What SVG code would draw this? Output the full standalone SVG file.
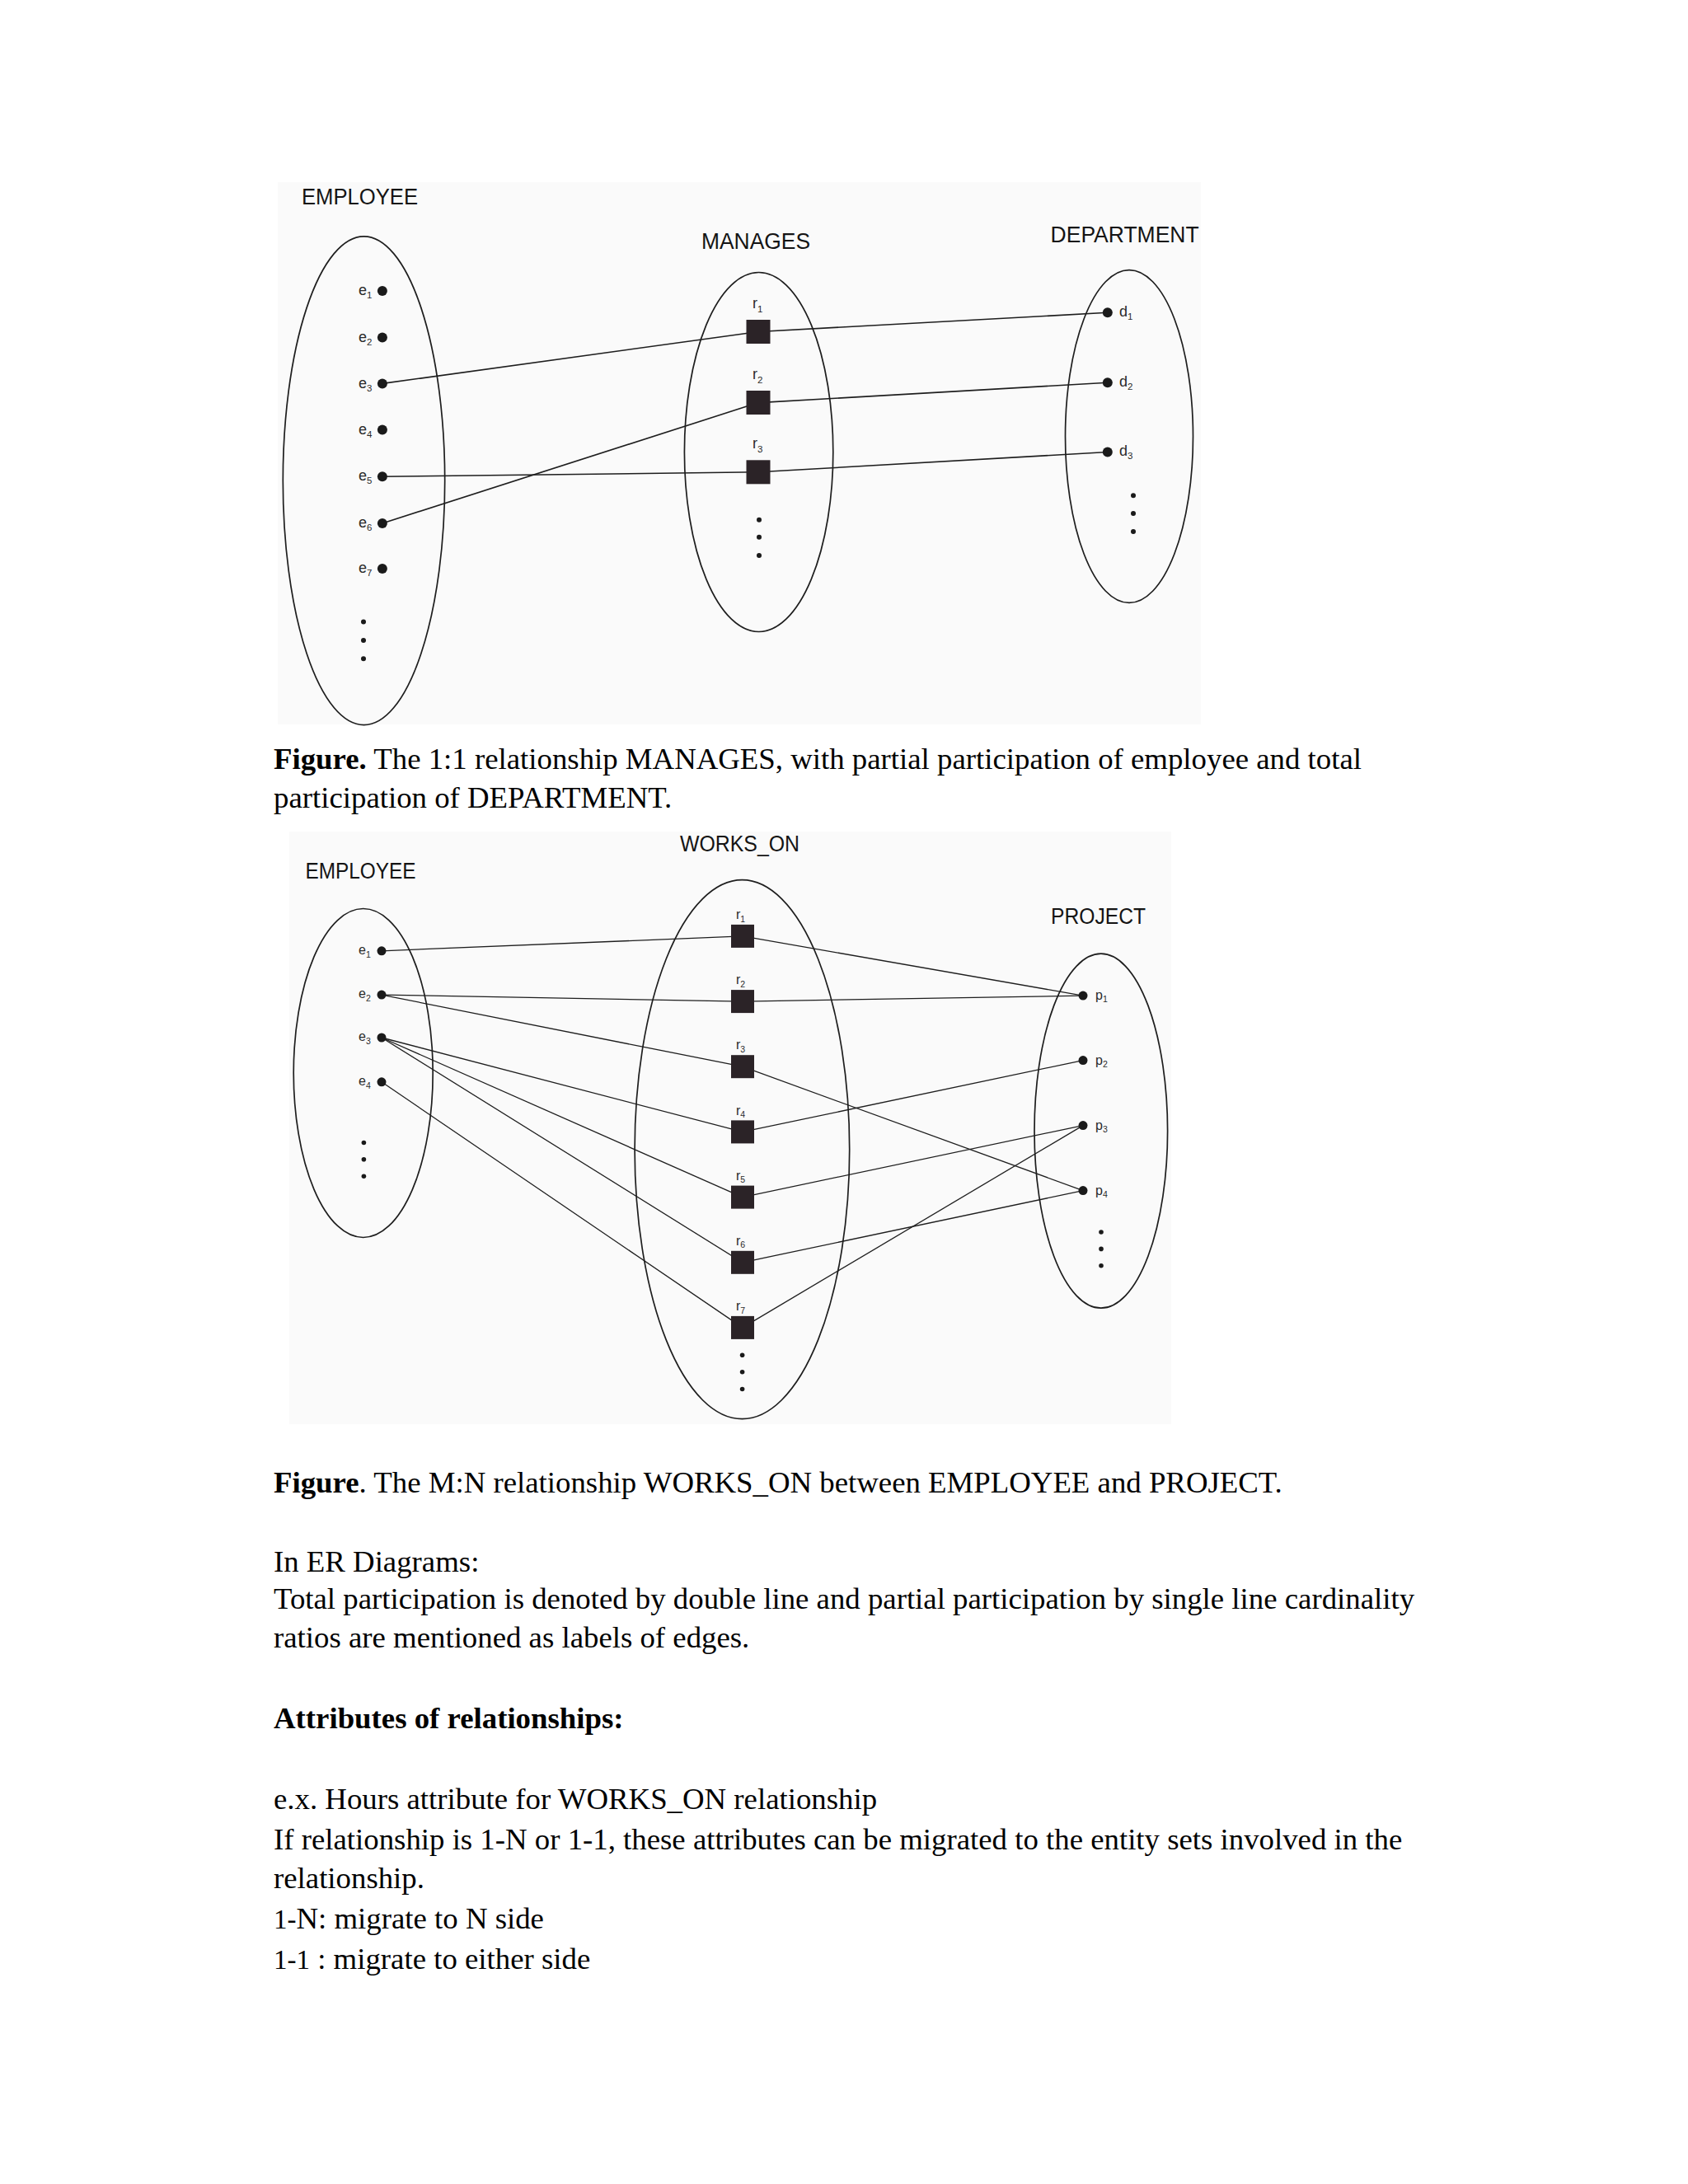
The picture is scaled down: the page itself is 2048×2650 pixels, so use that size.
<svg xmlns="http://www.w3.org/2000/svg" width="2048" height="2650" viewBox="0 0 2048 2650">
<style>
.bg{fill:#fafafa}
.set{fill:none;stroke:#1e1e1e;stroke-width:1.7}
.ln{stroke:#1e1e1e;stroke-width:1.6;fill:none}
.ln2{stroke:#1e1e1e;stroke-width:1.3;fill:none}
.dot{fill:#1a1a1a}
.sq{fill:#2b2327}
.hd{font-family:"Liberation Sans",Arial,sans-serif;font-size:27px;fill:#141414}
.lb{font-family:"Liberation Sans",Arial,sans-serif;font-size:18px;fill:#2a2a2a}
.sub{font-size:11.5px}
.lb2{font-family:"Liberation Sans",Arial,sans-serif;font-size:16px;fill:#2a2a2a}
.sub2{font-size:10.5px}
.tx{font-family:"Liberation Serif","Times New Roman",serif;font-size:36.8px;fill:#000}
.b{font-weight:bold}
</style>
<rect width="2048" height="2650" fill="#ffffff"/>

<!-- Figure 1 -->
<rect class="bg" x="337" y="221" width="1120" height="658"/>
<g id="connectors1">
<line class="ln" x1="463.9" y1="465.4" x2="920" y2="402.5"/>
<line class="ln" x1="463.9" y1="635" x2="920" y2="488.6"/>
<line class="ln" x1="463.9" y1="578.3" x2="920" y2="572.8"/>
<line class="ln" x1="920" y1="402.5" x2="1343.8" y2="379.3"/>
<line class="ln" x1="920" y1="488.6" x2="1343.8" y2="464.3"/>
<line class="ln" x1="920" y1="572.8" x2="1343.8" y2="548.5"/>
</g>
<g id="employee1">
<text class="hd" x="366" y="248" textLength="141" lengthAdjust="spacingAndGlyphs">EMPLOYEE</text>
<ellipse class="set" cx="441.5" cy="583.2" rx="98.2" ry="296.4"/>
<circle class="dot" cx="463.9" cy="352.9" r="6"/><text class="lb" x="435" y="358">e<tspan class="sub" dy="4">1</tspan></text>
<circle class="dot" cx="463.9" cy="409.6" r="6"/><text class="lb" x="435" y="414.7">e<tspan class="sub" dy="4">2</tspan></text>
<circle class="dot" cx="463.9" cy="465.4" r="6"/><text class="lb" x="435" y="470.5">e<tspan class="sub" dy="4">3</tspan></text>
<circle class="dot" cx="463.9" cy="521.6" r="6"/><text class="lb" x="435" y="526.7">e<tspan class="sub" dy="4">4</tspan></text>
<circle class="dot" cx="463.9" cy="578.3" r="6"/><text class="lb" x="435" y="583.4">e<tspan class="sub" dy="4">5</tspan></text>
<circle class="dot" cx="463.9" cy="635" r="6"/><text class="lb" x="435" y="640.1">e<tspan class="sub" dy="4">6</tspan></text>
<circle class="dot" cx="463.9" cy="689.9" r="6"/><text class="lb" x="435" y="695">e<tspan class="sub" dy="4">7</tspan></text>
<circle class="dot" cx="441" cy="754.6" r="3"/>
<circle class="dot" cx="441" cy="777" r="3"/>
<circle class="dot" cx="441" cy="799.3" r="3"/>
</g>
<g id="manages">
<text class="hd" x="851" y="301.7" textLength="132" lengthAdjust="spacingAndGlyphs">MANAGES</text>
<ellipse class="set" cx="920.6" cy="548.5" rx="90.2" ry="218"/>
<text class="lb" x="913" y="374">r<tspan class="sub" dy="5">1</tspan></text>
<rect class="sq" x="905.5" y="388" width="29" height="29"/>
<text class="lb" x="913" y="460">r<tspan class="sub" dy="5">2</tspan></text>
<rect class="sq" x="905.5" y="474" width="29" height="29"/>
<text class="lb" x="913" y="544">r<tspan class="sub" dy="5">3</tspan></text>
<rect class="sq" x="905.5" y="558.3" width="29" height="29"/>
<circle class="dot" cx="921" cy="630.7" r="3"/>
<circle class="dot" cx="921" cy="651.8" r="3"/>
<circle class="dot" cx="921" cy="674" r="3"/>
</g>
<g id="department">
<text class="hd" x="1274.6" y="294" textLength="180" lengthAdjust="spacingAndGlyphs">DEPARTMENT</text>
<ellipse class="set" cx="1370" cy="529.5" rx="77.5" ry="201.9"/>
<circle class="dot" cx="1343.8" cy="379.3" r="6"/><text class="lb" x="1358" y="384">d<tspan class="sub" dy="4">1</tspan></text>
<circle class="dot" cx="1343.8" cy="464.3" r="6"/><text class="lb" x="1358" y="469">d<tspan class="sub" dy="4">2</tspan></text>
<circle class="dot" cx="1343.8" cy="548.5" r="6"/><text class="lb" x="1358" y="553.2">d<tspan class="sub" dy="4">3</tspan></text>
<circle class="dot" cx="1375" cy="601.3" r="3"/>
<circle class="dot" cx="1375" cy="623" r="3"/>
<circle class="dot" cx="1375" cy="645" r="3"/>
</g>

<text class="tx" x="332" y="933"><tspan class="b">Figure.</tspan> The 1:1 relationship MANAGES, with partial participation of employee and total</text>
<text class="tx" x="332" y="980">participation of DEPARTMENT.</text>

<!-- Figure 2 -->
<rect class="bg" x="351" y="1009" width="1070" height="719"/>
<g id="connectors2">
<line class="ln2" x1="463" y1="1153.8" x2="900.9" y2="1135.9"/>
<line class="ln2" x1="463" y1="1207.1" x2="900.9" y2="1215.1"/>
<line class="ln2" x1="463" y1="1207.1" x2="900.9" y2="1294.2"/>
<line class="ln2" x1="463" y1="1259" x2="900.9" y2="1373.4"/>
<line class="ln2" x1="463" y1="1259" x2="900.9" y2="1452.6"/>
<line class="ln2" x1="463" y1="1259" x2="900.9" y2="1531.8"/>
<line class="ln2" x1="463" y1="1312.8" x2="900.9" y2="1610.9"/>
<line class="ln2" x1="900.9" y1="1135.9" x2="1314" y2="1208.1"/>
<line class="ln2" x1="900.9" y1="1215.1" x2="1314" y2="1208.1"/>
<line class="ln2" x1="900.9" y1="1294.2" x2="1314" y2="1444.6"/>
<line class="ln2" x1="900.9" y1="1373.4" x2="1314" y2="1286.6"/>
<line class="ln2" x1="900.9" y1="1452.6" x2="1314" y2="1365.6"/>
<line class="ln2" x1="900.9" y1="1531.8" x2="1314" y2="1444.6"/>
<line class="ln2" x1="900.9" y1="1610.9" x2="1314" y2="1365.6"/>
</g>
<g id="employee2">
<text class="hd" x="370.5" y="1066" font-size="25.5" textLength="134" lengthAdjust="spacingAndGlyphs">EMPLOYEE</text>
<ellipse class="set" cx="440.7" cy="1302" rx="84.5" ry="199.5"/>
<circle class="dot" cx="463" cy="1153.8" r="5.5"/><text class="lb2" x="435" y="1158">e<tspan class="sub2" dy="4">1</tspan></text>
<circle class="dot" cx="463" cy="1207.1" r="5.5"/><text class="lb2" x="435" y="1211.3">e<tspan class="sub2" dy="4">2</tspan></text>
<circle class="dot" cx="463" cy="1259" r="5.5"/><text class="lb2" x="435" y="1263.2">e<tspan class="sub2" dy="4">3</tspan></text>
<circle class="dot" cx="463" cy="1312.8" r="5.5"/><text class="lb2" x="435" y="1317">e<tspan class="sub2" dy="4">4</tspan></text>
<circle class="dot" cx="441.4" cy="1386.5" r="2.8"/>
<circle class="dot" cx="441.4" cy="1406.8" r="2.8"/>
<circle class="dot" cx="441.4" cy="1427.2" r="2.8"/>
</g>
<g id="works_on">
<text class="hd" x="825" y="1033" textLength="145" lengthAdjust="spacingAndGlyphs">WORKS_ON</text>
<ellipse class="set" cx="900.4" cy="1394.7" rx="130.3" ry="327"/>
<text class="lb2" x="893" y="1115">r<tspan class="sub2" dy="3.5">1</tspan></text>
<rect class="sq" x="887" y="1121.9" width="28" height="28"/>
<text class="lb2" x="893" y="1194.2">r<tspan class="sub2" dy="3.5">2</tspan></text>
<rect class="sq" x="887" y="1201.1" width="28" height="28"/>
<text class="lb2" x="893" y="1273.3">r<tspan class="sub2" dy="3.5">3</tspan></text>
<rect class="sq" x="887" y="1280.2" width="28" height="28"/>
<text class="lb2" x="893" y="1352.5">r<tspan class="sub2" dy="3.5">4</tspan></text>
<rect class="sq" x="887" y="1359.4" width="28" height="28"/>
<text class="lb2" x="893" y="1431.7">r<tspan class="sub2" dy="3.5">5</tspan></text>
<rect class="sq" x="887" y="1438.6" width="28" height="28"/>
<text class="lb2" x="893" y="1510.9">r<tspan class="sub2" dy="3.5">6</tspan></text>
<rect class="sq" x="887" y="1517.8" width="28" height="28"/>
<text class="lb2" x="893" y="1590">r<tspan class="sub2" dy="3.5">7</tspan></text>
<rect class="sq" x="887" y="1596.9" width="28" height="28"/>
<circle class="dot" cx="900.6" cy="1644.3" r="2.8"/>
<circle class="dot" cx="900.6" cy="1664.7" r="2.8"/>
<circle class="dot" cx="900.6" cy="1685.5" r="2.8"/>
</g>
<g id="project">
<text class="hd" x="1275" y="1121" textLength="115" lengthAdjust="spacingAndGlyphs">PROJECT</text>
<ellipse class="set" cx="1335.8" cy="1372.2" rx="80.8" ry="215"/>
<circle class="dot" cx="1314" cy="1208.1" r="5.5"/><text class="lb2" x="1329" y="1213">p<tspan class="sub2" dy="3">1</tspan></text>
<circle class="dot" cx="1314" cy="1286.6" r="5.5"/><text class="lb2" x="1329" y="1291.5">p<tspan class="sub2" dy="3">2</tspan></text>
<circle class="dot" cx="1314" cy="1365.6" r="5.5"/><text class="lb2" x="1329" y="1370.5">p<tspan class="sub2" dy="3">3</tspan></text>
<circle class="dot" cx="1314" cy="1444.6" r="5.5"/><text class="lb2" x="1329" y="1449.5">p<tspan class="sub2" dy="3">4</tspan></text>
<circle class="dot" cx="1336" cy="1495" r="2.8"/>
<circle class="dot" cx="1336" cy="1515.4" r="2.8"/>
<circle class="dot" cx="1336" cy="1535.7" r="2.8"/>
</g>

<text class="tx" x="332" y="1811"><tspan class="b">Figure</tspan>. The M:N relationship WORKS_ON between EMPLOYEE and PROJECT.</text>
<text class="tx" x="332" y="1907">In ER Diagrams:</text>
<text class="tx" x="332" y="1952">Total participation is denoted by double line and partial participation by single line cardinality</text>
<text class="tx" x="332" y="1999">ratios are mentioned as labels of edges.</text>
<text class="tx b" x="332" y="2097">Attributes of relationships:</text>
<text class="tx" x="332" y="2195">e.x. Hours attribute for WORKS_ON relationship</text>
<text class="tx" x="332" y="2244">If relationship is 1-N or 1-1, these attributes can be migrated to the entity sets involved in the</text>
<text class="tx" x="332" y="2291">relationship.</text>
<text class="tx" x="332" y="2340"><tspan font-size="33">1-</tspan>N: migrate to N side</text>
<text class="tx" x="332" y="2389"><tspan font-size="33">1-1</tspan> : migrate to either side</text>
</svg>
